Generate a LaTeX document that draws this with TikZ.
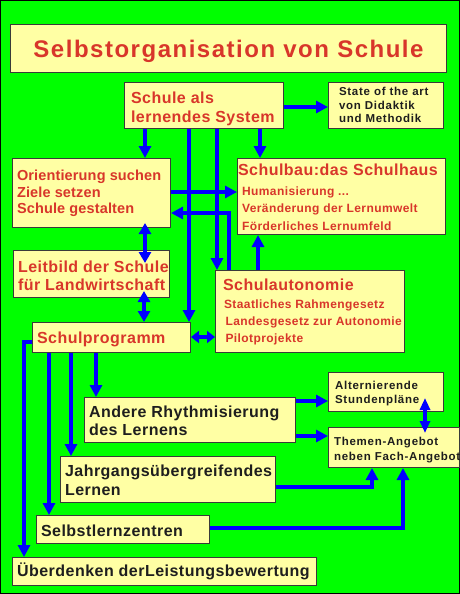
\documentclass[tikz,border=0pt]{standalone}
\usepackage{fontspec}
\setmainfont{Liberation Sans}
\usetikzlibrary{arrows.meta,calc}
\definecolor{bg}{HTML}{00FF00}
\definecolor{boxfill}{HTML}{FFFFA4}
\definecolor{boxline}{HTML}{3A3A3A}
\definecolor{txtred}{HTML}{D8362A}
\definecolor{txtdark}{HTML}{1E1E1E}
\definecolor{arrblue}{HTML}{0000FF}
\newcommand{\mlines}[1]{\begin{tabular}[t]{@{}l@{}}#1\end{tabular}}
\tikzset{
  bx/.style={draw=boxline, line width=1pt, fill=boxfill, inner sep=0pt, anchor=north west},
  tx/.style={anchor=base west, inner sep=0pt, outer sep=0pt},
  hdred/.style={tx, text=txtred, font=\fontsize{16}{#1}\selectfont\bfseries\addfontfeatures{LetterSpace=3}},
  hdred/.default=19,
  hddark/.style={tx, text=txtdark, font=\fontsize{16}{#1}\selectfont\bfseries\addfontfeatures{LetterSpace=3}},
  hddark/.default=18,
  orred/.style={tx, text=txtred, font=\fontsize{14.5}{16.5}\selectfont\bfseries\addfontfeatures{LetterSpace=1}},
  subred/.style={tx, text=txtred, font=\fontsize{12}{#1}\selectfont\bfseries\addfontfeatures{LetterSpace=3.5}},
  subred/.default=17.5,
  smdark/.style={tx, text=txtdark, font=\fontsize{11.5}{#1}\selectfont\bfseries\addfontfeatures{LetterSpace=6.5}},
  smdark/.default=14.3,
  arr/.style={draw=arrblue, line width=4pt, -{Triangle[width=12pt,length=12pt]}},
  dbl/.style={draw=arrblue, line width=4pt, {Triangle[width=12pt,length=11pt]}-{Triangle[width=12pt,length=11pt]}},
  dblsm/.style={draw=arrblue, line width=4pt, {Triangle[width=12pt,length=8pt]}-{Triangle[width=12pt,length=8pt]}},
  dblthin/.style={draw=arrblue, line width=3.5pt, {Triangle[width=10pt,length=12pt]}-{Triangle[width=10pt,length=12pt]}},
}
\begin{document}
\begin{tikzpicture}[x=1pt,y=-1pt]
\useasboundingbox (0,0) rectangle (460,594);
\fill[bg] (0,0) rectangle (460,594);
\draw[black, line width=1pt] (0.5,0.5) rectangle (459.5,593.5);

% boxes
\node[bx, minimum width=436pt, minimum height=48pt] (title) at (10,24) {};
\node[bx, minimum width=159pt, minimum height=46pt] (schule) at (124,82) {};
\node[bx, minimum width=115pt, minimum height=46pt] (state) at (328,82) {};
\node[bx, minimum width=158pt, minimum height=69pt] (orient) at (12,158) {};
\node[bx, minimum width=208pt, minimum height=76pt] (bau) at (237,158) {};
\node[bx, minimum width=156pt, minimum height=47pt] (leit) at (13,250) {};
\node[bx, minimum width=189pt, minimum height=82pt] (auto) at (215,270) {};
\node[bx, minimum width=158pt, minimum height=30pt] (prog) at (32,322) {};
\node[bx, minimum width=211pt, minimum height=45pt] (andere) at (84,397) {};
\node[bx, minimum width=115pt, minimum height=39pt] (altern) at (328,372) {};
\node[bx, minimum width=131pt, minimum height=40pt] (themen) at (328,427) {};
\node[bx, minimum width=215pt, minimum height=46pt] (jahr) at (60,456) {};
\node[bx, minimum width=173pt, minimum height=28pt] (selbst) at (36,515) {};
\node[bx, minimum width=304pt, minimum height=28pt] (ueber) at (12,557) {};

% texts
\node[tx, anchor=base, text=txtred, font=\fontsize{24}{28}\selectfont\bfseries\addfontfeatures{LetterSpace=6.3}] (title-t) at (228.5,57) {Selbstorganisation von Schule};
\node[hdred=19] (schule-t) at (131,103) {\mlines{Schule als\\lernendes System}};
\node[smdark=14] (state-t) at (339,95) {\mlines{State of the art\\von Didaktik\\und Methodik}};
\node[orred] (orient-t) at (17,180.5) {\mlines{Orientierung suchen\\Ziele setzen\\Schule gestalten}};
\node[hdred] (bau-t) at (238,175) {Schulbau:das Schulhaus};
\node[subred=17.5] (bau-s) at (242,195) {\mlines{Humanisierung ...\\Veränderung der Lernumwelt\\Förderliches Lernumfeld}};
\node[hdred=18] (leit-t) at (18,272.5) {\mlines{Leitbild der Schule\\für Landwirtschaft}};
\node[hdred] (auto-t) at (223,290) {Schulautonomie};
\node[subred=17] (auto-s) at (224,308) {\mlines{Staatliches Rahmengesetz\\\hspace{1.5pt}Landesgesetz zur Autonomie\\\hspace{1.5pt}Pilotprojekte}};
\node[hdred] (prog-t) at (37,343.3) {Schulprogramm};
\node[hddark=17.3] (andere-t) at (89,417.7) {\mlines{Andere Rhythmisierung\\des Lernens}};
\node[smdark=14.6] (altern-t) at (335,389.3) {\mlines{Alternierende\\Stundenpläne}};
\node[smdark=14.3] (themen-t) at (334,445.7) {\mlines{Themen-Angebot\\neben Fach-Angebot}};
\node[hddark=18.3] (jahr-t) at (65,476.7) {\mlines{Jahrgangsübergreifendes\\Lernen}};
\node[hddark] (selbst-t) at (41,536.7) {Selbstlernzentren};
\node[hddark] (ueber-t) at (17,576.7) {Überdenken derLeistungsbewertung};

% guide coordinates
\coordinate (cA) at (145,0);
\coordinate (cB) at (189,0);
\coordinate (cC) at (217,0);
\coordinate (cD) at (260,0);
\coordinate (cE) at (229,0);
\coordinate (cF) at (258,0);
\coordinate (cG) at (144,0);
\coordinate (cH) at (24,0);
\coordinate (cI) at (49,0);
\coordinate (cJ) at (71,0);
\coordinate (cK) at (96,0);
\coordinate (cL) at (425,0);
\coordinate (cM) at (372,0);
\coordinate (cN) at (403,0);
\coordinate (r107) at (0,107);
\coordinate (r192) at (0,192);
\coordinate (r213) at (0,213);
\coordinate (r337) at (0,337);
\coordinate (r342) at (0,342);
\coordinate (r401) at (0,401);
\coordinate (r436) at (0,436);
\coordinate (r487) at (0,487);
\coordinate (r528) at (0,528);

% connectors
\draw[arr] (schule.east |- r107) -- (state.west |- r107);
\draw[arr] (cA |- schule.south) -- (cA |- orient.north);
\draw[arr] (cB |- schule.south) -- (cB |- prog.north);
\draw[arr] (cC |- schule.south) -- (cC |- auto.north);
\draw[arr] (cD |- schule.south) -- (cD |- bau.north);
\draw[arr] (orient.east |- r192) -- (bau.west |- r192);
\draw[arr] (cE |- auto.north) -- (cE |- r213) -- (orient.east |- r213);
\draw[arr] (cF |- auto.north) -- (cF |- bau.south);
\draw[dbl] ($(cA |- orient.south)+(0,-5)$) -- ($(cA |- leit.north)+(0,13)$);
\draw[dbl] ($(cG |- leit.south)+(0,-7)$) -- (cG |- prog.north);
\draw[dblsm] (prog.east |- r337) -- (auto.west |- r337);
\draw[arr] (prog.west |- r342) -- (cH |- r342) -- (cH |- ueber.north);
\draw[arr] (cI |- prog.south) -- (cI |- selbst.north);
\draw[arr] (cJ |- prog.south) -- (cJ |- jahr.north);
\draw[arr] (cK |- prog.south) -- (cK |- andere.north);
\draw[arr] (andere.east |- r401) -- (altern.west |- r401);
\draw[arr] (andere.east |- r436) -- (themen.west |- r436);
\draw[dblthin] ($(cL |- altern.south)+(0,-14)$) -- ($(cL |- themen.north)+(0,6)$);
\draw[arr] (jahr.east |- r487) -- (cM |- r487) -- (cM |- themen.south);
\draw[arr] (selbst.east |- r528) -- (cN |- r528) -- (cN |- themen.south);
\end{tikzpicture}
\end{document}
